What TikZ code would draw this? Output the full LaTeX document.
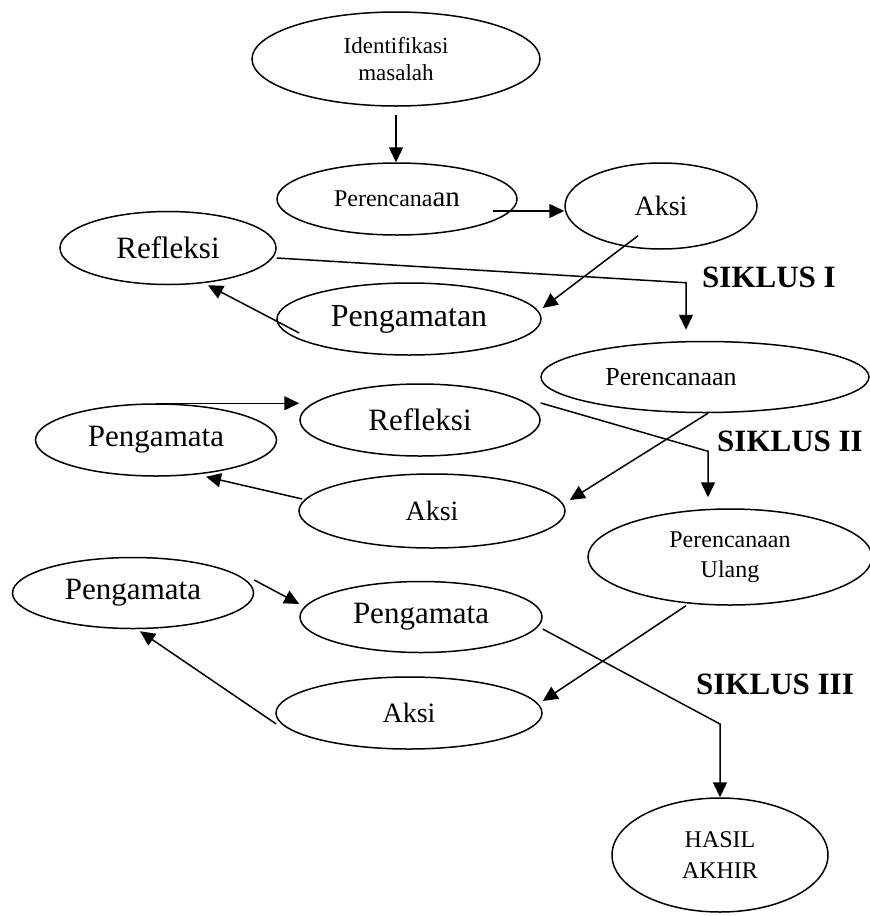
\documentclass[tikz,border=0pt]{standalone}
\usepackage{fontspec}
\setmainfont{Liberation Serif}
\usetikzlibrary{shapes.geometric,arrows.meta}

\newcommand{\fnt}[2]{\fontsize{#1}{#2}\selectfont}

\tikzset{
  oval/.style={draw, ellipse, line width=1.5pt, inner sep=0pt, align=center},
  arr/.style={-{Triangle[length=15pt,width=14pt]}, line width=1.5pt},
  siklus/.style={font=\fnt{31}{34}\bfseries}
}

\begin{document}
\begin{tikzpicture}[x=1pt,y=-1pt]
    \useasboundingbox (0,0) rectangle (870,916);
    % siklus I
    \node[oval, minimum width=288pt, minimum height=94pt, font=\fnt{23}{27}] (idm) at (396,59) {Identifikasi\\masalah};
    \node[oval, minimum width=240pt, minimum height=72pt, font=\fnt{24}{28}] (perenc1) at (397,199) {Perencana{\fnt{29}{29}an}};
    \node[oval, minimum width=192pt, minimum height=86pt, font=\fnt{28}{30}] (aksi1) at (661,206) {Aksi};
    \node[oval, minimum width=216pt, minimum height=73pt, font=\fnt{31}{34}] (refl1) at (168,248) {Refleksi};
    \node[oval, minimum width=264pt, minimum height=72pt, font=\fnt{32}{34}] (pengamatan) at (409,319) {Pengamatan};
    \node[siklus] (sik1) at (769,277) {SIKLUS I};
    % siklus II
    \node[oval, minimum width=328pt, minimum height=71pt, font=\fnt{26}{28}] (perenc2) at (705,377) {Perencanaan\hspace*{68pt}};
    \node[oval, minimum width=240pt, minimum height=72pt, font=\fnt{31}{34}] (refl2) at (420,420) {Refleksi};
    \node[oval, minimum width=241pt, minimum height=72pt, font=\fnt{31}{34}] (pengamata2) at (156,440) {Pengamata};
    \node[oval, minimum width=266pt, minimum height=74pt, font=\fnt{28}{30}] (aksi2) at (432,511) {Aksi};
    \node[siklus] (sik2) at (790,441) {SIKLUS II};
    % siklus III
    \node[oval, minimum width=284pt, minimum height=96pt, font=\fnt{24}{30}] (perencU) at (730,557) {Perencanaan\\Ulang};
    \node[oval, minimum width=241pt, minimum height=71pt, font=\fnt{31}{34}] (pengamata3) at (133,593) {Pengamata};
    \node[oval, minimum width=242pt, minimum height=71pt, font=\fnt{31}{34}] (pengamata4) at (421,617) {Pengamata};
    \node[oval, minimum width=266pt, minimum height=72pt, font=\fnt{28}{30}] (aksi3) at (409,713) {Aksi};
    \node[siklus] (sik3) at (775,684) {SIKLUS III};
    \node[oval, minimum width=216pt, minimum height=114pt, font=\fnt{24}{31}] (hasil) at (720,855) {HASIL\\AKHIR};

    \draw[arr] ([yshift=-8pt]idm.south) -- (idm.south |- perenc1.north);
    \draw[arr] ([xshift=-25pt,yshift=-12pt]perenc1.east) coordinate (c2) -- (c2 -| aksi1.west);
    \draw[arr] ([xshift=-23pt,yshift=14pt]aksi1.south) -- ([xshift=1pt,yshift=11pt]pengamatan.east);
    \draw[arr] ([xshift=23pt,yshift=-14pt]pengamatan.west) -- ([xshift=40pt]refl1.south);
    \draw[arr] ([yshift=-10pt]refl1.east) -- ([xshift=-19pt,yshift=58pt]perenc2.north) -- ([xshift=-19pt,yshift=11pt]perenc2.north);

    \draw[arr] (pengamata2.north) -- (pengamata2.north -| refl2.west);
    \draw[arr] ([xshift=3pt]perenc2.south) -- ([xshift=4pt,yshift=11pt]aksi2.east);
    \draw[arr] ([xshift=4pt,yshift=12pt]aksi2.west) -- ([xshift=50pt]pengamata2.south);
    \draw[arr] ([yshift=17pt]refl2.east) -- ([xshift=-22pt,yshift=57pt]perencU.north) -- ([xshift=-22pt,yshift=11pt]perencU.north);

    \draw[arr] ([yshift=13pt]pengamata3.east) -- ([yshift=13pt]pengamata4.west);
    \draw[arr] ([xshift=-44pt]perencU.south) -- ([yshift=12pt]aksi3.east);
    \draw[arr] ([xshift=1pt,yshift=-11pt]aksi3.west) -- ([xshift=7pt,yshift=-2pt]pengamata3.south);
    \draw[arr] ([yshift=-12pt]pengamata4.east) -- (hasil.north |- 708,724) -- (hasil.north);
\end{tikzpicture}
\end{document}
